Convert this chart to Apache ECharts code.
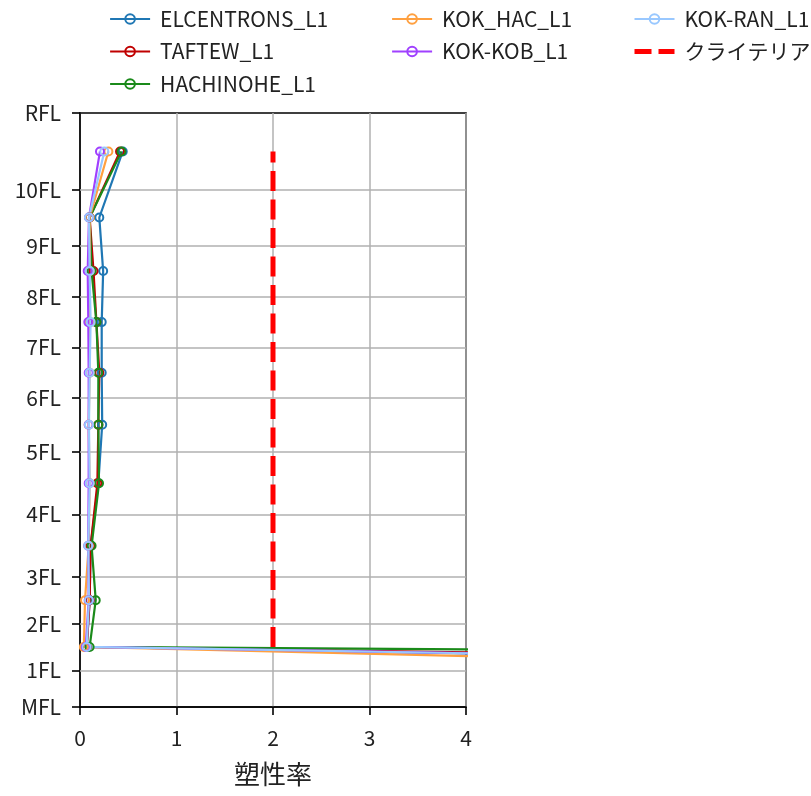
<!DOCTYPE html>
<html><head><meta charset="utf-8">
<script src="https://cdn.jsdelivr.net/npm/echarts@6/dist/echarts.min.js"></script>
<style>html,body{margin:0;padding:0;background:#fff}#c{width:811px;height:796px}</style>
</head><body><div id="c"></div>
<script>
// Floor levels (tick labels on the vertical axis) and their heights
const floorLabels = ['MFL','1FL','2FL','3FL','4FL','5FL','6FL','7FL','8FL','9FL','10FL','RFL'];
const floorLevels = [0, 3.67, 8.34, 13.0, 19.24, 25.47, 30.9, 35.92, 41.0, 46.1, 51.67, 59.34];
// Story mid-heights where ductility values are plotted (bottom story first)
const storyHeights = [1.85, 6.0, 10.67, 16.1, 22.35, 28.2, 33.4, 38.45, 43.55, 48.9, 55.5];

const elcentrons = [25, 0.07, 0.10, 0.11, 0.19, 0.23, 0.225, 0.225, 0.24, 0.20, 0.443];
const taftew     = [30, 0.07, 0.10, 0.11, 0.18, 0.19, 0.20, 0.17, 0.14, 0.10, 0.415];
const hachinohe  = [68, 0.10, 0.163, 0.12, 0.197, 0.19, 0.19, 0.17, 0.12, 0.10, 0.43];
const kokHac     = [18, 0.04, 0.052, 0.09, 0.10, 0.09, 0.10, 0.10, 0.10, 0.10, 0.294];
const kokKob     = [27, 0.06, 0.09, 0.085, 0.09, 0.09, 0.09, 0.086, 0.08, 0.093, 0.207];
const kokRan     = [26, 0.069, 0.093, 0.086, 0.10, 0.093, 0.10, 0.11, 0.10, 0.093, 0.252];
const criteria   = ['-', 2, 2, 2, 2, 2, 2, 2, 2, 2, 2];

const xTicks = [0, 1, 2, 3, 4];
const xAxisName = '塑性率';

const seriesDefs = [
  {name: 'ELCENTRONS_L1', values: elcentrons, color: '#1f77b4'},
  {name: 'TAFTEW_L1',     values: taftew,     color: '#c00000'},
  {name: 'HACHINOHE_L1',  values: hachinohe,  color: '#1a8a1a'},
  {name: 'KOK_HAC_L1',    values: kokHac,     color: '#ffa040'},
  {name: 'KOK-KOB_L1',    values: kokKob,     color: '#a040ff'},
  {name: 'KOK-RAN_L1',    values: kokRan,     color: '#99c8ff'}
];

const FONT = "'Noto Sans CJK JP', 'Noto Sans', sans-serif";
const TXT = '#222';
const chart = echarts.init(document.getElementById('c'), null, {renderer: 'canvas'});

const series = seriesDefs.map(d => ({
  name: d.name,
  type: 'line',
  z: 3,
  data: d.values.map((v, i) => [v, storyHeights[i]]),
  symbol: 'circle',
  symbolSize: 8,
  lineStyle: {color: d.color, width: 2.2},
  itemStyle: {color: 'rgba(255,255,255,0)', borderColor: d.color, borderWidth: 2},
  emphasis: {disabled: true},
  animation: false
}));
series.push({
  name: 'クライテリア',
  type: 'line',
  z: 4,
  data: criteria.map((v, i) => [v, storyHeights[i]]).filter(p => p[0] !== '-'),
  symbol: 'none',
  lineStyle: {color: '#ff0000', width: 5, type: [20, 8.5], cap: 'butt'},
  itemStyle: {color: '#ff0000'},
  emphasis: {disabled: true},
  animation: false
});
// horizontal grid lines at floor levels
series.push({
  type: 'line', data: [], silent: true, z: 1,
  markLine: {
    silent: true, symbol: 'none', animation: false, z: 1,
    label: {show: false},
    lineStyle: {color: '#b0b0b0', width: 1.5, type: 'solid'},
    emphasis: {disabled: true},
    data: floorLevels.slice(1, -1).map(h => ({yAxis: h}))
  }
});

const legendBase = {
  orient: 'vertical', top: 3, itemWidth: 40, itemHeight: 12, itemGap: 10.5,
  lineStyle: {width: 2.2},
  textStyle: {fontFamily: FONT, fontSize: 21, color: TXT, lineHeight: 22, padding: [0, 0, 0, 5]},
  selectedMode: false
};

chart.setOption({
  animation: false,
  legend: [
    Object.assign({}, legendBase, {left: 104, data: ['ELCENTRONS_L1', 'TAFTEW_L1', 'HACHINOHE_L1']}),
    Object.assign({}, legendBase, {left: 386, data: ['KOK_HAC_L1', 'KOK-KOB_L1']}),
    Object.assign({}, legendBase, {left: 627, data: ['KOK-RAN_L1',
      {name: 'クライテリア', itemStyle: {color: 'rgba(0,0,0,0)', borderWidth: 0, opacity: 0},
       lineStyle: {width: 5, type: [17, 7], cap: 'butt'}}]})
  ],
  grid: {left: 80, right: 345, top: 113, bottom: 89, show: true, borderColor: '#000', borderWidth: 1.6, containLabel: false},
  xAxis: {
    type: 'value', min: xTicks[0], max: xTicks[xTicks.length - 1], interval: 1,
    name: xAxisName, nameLocation: 'middle', nameGap: 54,
    nameTextStyle: {fontFamily: FONT, fontSize: 26, color: TXT},
    axisLine: {show: true, onZero: false, lineStyle: {color: '#000', width: 1.6}},
    axisTick: {show: true, inside: false, length: 8, lineStyle: {color: '#000', width: 1.6}},
    axisLabel: {fontFamily: FONT, fontSize: 21, color: TXT, margin: 21},
    splitLine: {show: true, lineStyle: {color: '#b0b0b0', width: 1.5}}
  },
  yAxis: {
    type: 'value', min: floorLevels[0], max: floorLevels[floorLevels.length - 1],
    axisLine: {show: true, onZero: false, lineStyle: {color: '#000', width: 1.6}},
    axisTick: {show: true, inside: false, length: 8, lineStyle: {color: '#000', width: 1.6}, customValues: floorLevels},
    axisLabel: {
      fontFamily: FONT, fontSize: 21, color: TXT, margin: 19,
      customValues: floorLevels,
      formatter: v => { const i = floorLevels.indexOf(v); return i >= 0 ? floorLabels[i] : ''; }
    },
    splitLine: {show: false}
  },
  series: series
});
</script></body></html>
